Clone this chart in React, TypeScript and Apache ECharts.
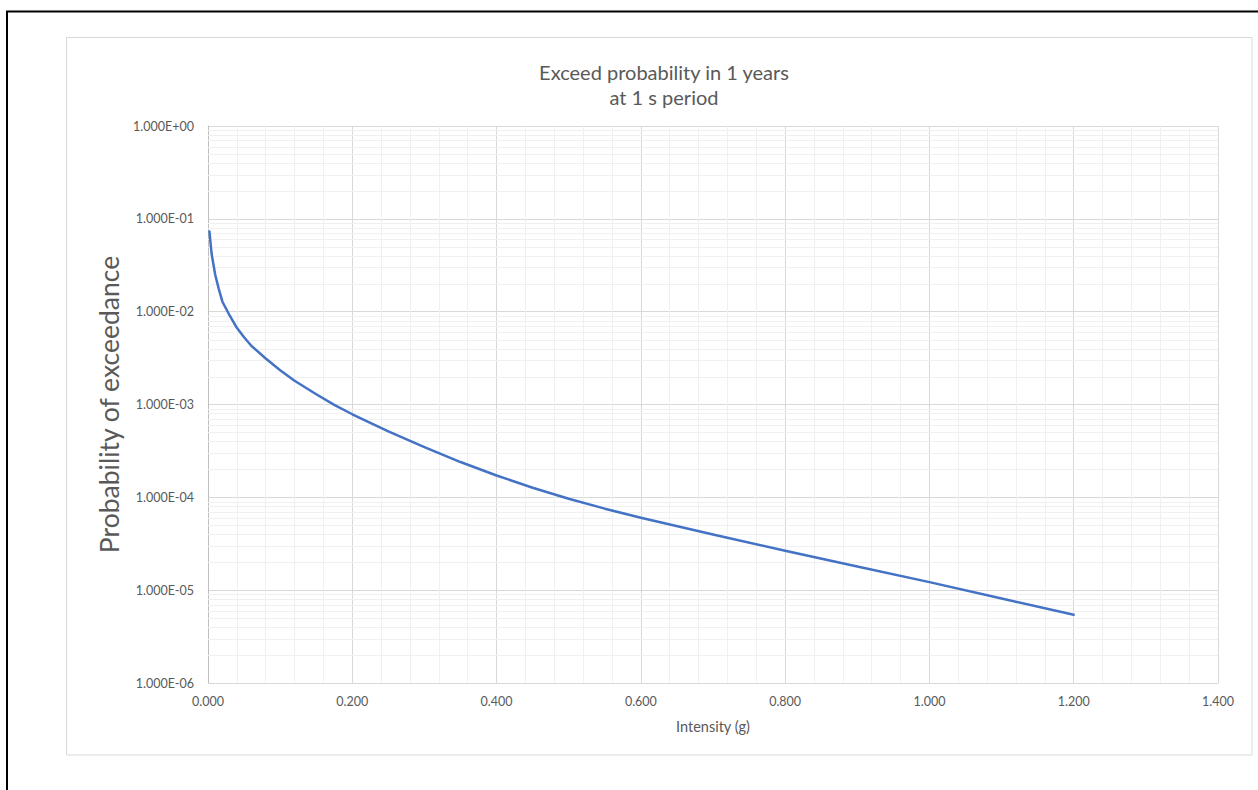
import React, { useEffect, useRef } from "react";
import * as echarts from "echarts";

const intensity = [0.002, 0.005, 0.01, 0.015, 0.02, 0.03, 0.04, 0.05, 0.06, 0.08, 0.1, 0.12, 0.15, 0.175, 0.2, 0.25, 0.3, 0.35, 0.4, 0.45, 0.5, 0.55, 0.6, 0.7, 0.8, 0.9, 1.0, 1.1, 1.2];
const probability = [0.073, 0.042, 0.025, 0.0175, 0.0128, 0.0091, 0.0067, 0.0053, 0.0043, 0.00313, 0.00234, 0.0018, 0.00129, 0.00099, 0.000785, 0.000513, 0.000347, 0.00024, 0.000172, 0.000127, 0.0000966, 0.0000755, 0.0000603, 0.0000398, 0.0000266, 0.000018, 0.0000122, 0.00000813, 0.00000543];
const minorMultipliers = [2, 3, 4, 5, 6, 7, 8, 9];
const decades = [-6, -5, -4, -3, -2, -1];
const titleText = "Exceed probability in 1 years\nat 1 s period";
const xName = "Intensity (g)";
const yName = "Probability of exceedance";

const FONT = "Lato, 'Open Sans', sans-serif";

function fmtSci(v: number): string {
  const e = Math.floor(Math.log10(v) + 1e-9);
  const m = v / Math.pow(10, e);
  const sign = e < 0 ? "-" : "+";
  return m.toFixed(3) + "E" + sign + String(Math.abs(e)).padStart(2, "0");
}

export default function App() {
  const ref = useRef<HTMLDivElement>(null);
  useEffect(() => {
    if (!ref.current) return;
    const chart = echarts.init(ref.current, undefined, { renderer: "svg" });
    const minorVals: number[] = [];
    decades.forEach((d) => minorMultipliers.forEach((k) => minorVals.push(k * Math.pow(10, d))));
    const data = intensity.map((x, i) => [x, probability[i]]);
    chart.setOption({
      animation: false,
      backgroundColor: "#ffffff",
      textStyle: { fontFamily: FONT },
      title: {
        text: titleText,
        left: 659,
        top: 54,
        textAlign: "center",
        textStyle: { fontFamily: FONT, fontSize: 20, fontWeight: "normal", color: "#595959", lineHeight: 25 },
      },
      graphic: [
        { type: "line", shape: { x1: 6, y1: 11.5, x2: 1258, y2: 11.5 }, style: { stroke: "#000", lineWidth: 2 }, silent: true },
        { type: "line", shape: { x1: 7, y1: 11, x2: 7, y2: 790 }, style: { stroke: "#000", lineWidth: 2 }, silent: true },
        { type: "rect", shape: { x: 66.5, y: 37.5, width: 1185.5, height: 717.5 }, style: { fill: "none", stroke: "#d9d9d9", lineWidth: 1 }, silent: true },
      ],
      grid: { left: 208, top: 126, width: 1010, height: 557, containLabel: false },
      xAxis: {
        type: "value",
        min: 0,
        max: 1.4,
        interval: 0.2,
        name: xName,
        nameLocation: "middle",
        nameGap: 36,
        nameTextStyle: { fontFamily: FONT, fontSize: 14.5, color: "#595959" },
        axisLine: { show: true, lineStyle: { color: "#d9d9d9", width: 1 } },
        axisTick: { show: false },
        axisLabel: { formatter: (v: number) => v.toFixed(3), color: "#595959", fontSize: 12.5, margin: 12, fontFamily: FONT },
        splitLine: { show: true, lineStyle: { color: "#d9d9d9", width: 1 } },
        minorTick: { show: false, splitNumber: 5 },
        minorSplitLine: { show: true, lineStyle: { color: "#f0f0f0", width: 1 } },
      },
      yAxis: {
        type: "log",
        logBase: 10,
        min: 1e-6,
        max: 1,
        name: yName,
        nameLocation: "middle",
        nameRotate: 90,
        nameGap: 85,
        nameTextStyle: { fontFamily: FONT, fontSize: 26.5, color: "#595959" },
        axisLine: { show: true, lineStyle: { color: "#bfbfbf", width: 1 } },
        axisTick: { show: false },
        axisLabel: { formatter: (v: number) => fmtSci(v), color: "#595959", fontSize: 12.5, margin: 14, fontFamily: FONT },
        splitLine: { show: true, lineStyle: { color: "#d9d9d9", width: 1 } },
      },
      series: [
        {
          type: "custom",
          z: 1,
          silent: true,
          clip: true,
          data: minorVals.map((v) => [v]),
          encode: { y: 0 },
          renderItem: (params: any, api: any) => {
            const v = api.value(0);
            const p1 = api.coord([0, v]);
            const p2 = api.coord([1.4, v]);
            const y = Math.round(p1[1]) + 0.5;
            return {
              type: "line",
              shape: { x1: p1[0], y1: y, x2: p2[0], y2: y },
              style: { stroke: "#f0f0f0", lineWidth: 1 },
            };
          },
        },
        {
          type: "line",
          z: 3,
          data,
          smooth: false,
          showSymbol: false,
          symbol: "none",
          lineStyle: { color: "#4472C4", width: 2.5, join: "round", cap: "round" },
        },
      ],
    });
    return () => chart.dispose();
  }, []);
  return <div ref={ref} style={{ position: "absolute", left: 0, top: 0, width: 1258, height: 790 }} />;
}
